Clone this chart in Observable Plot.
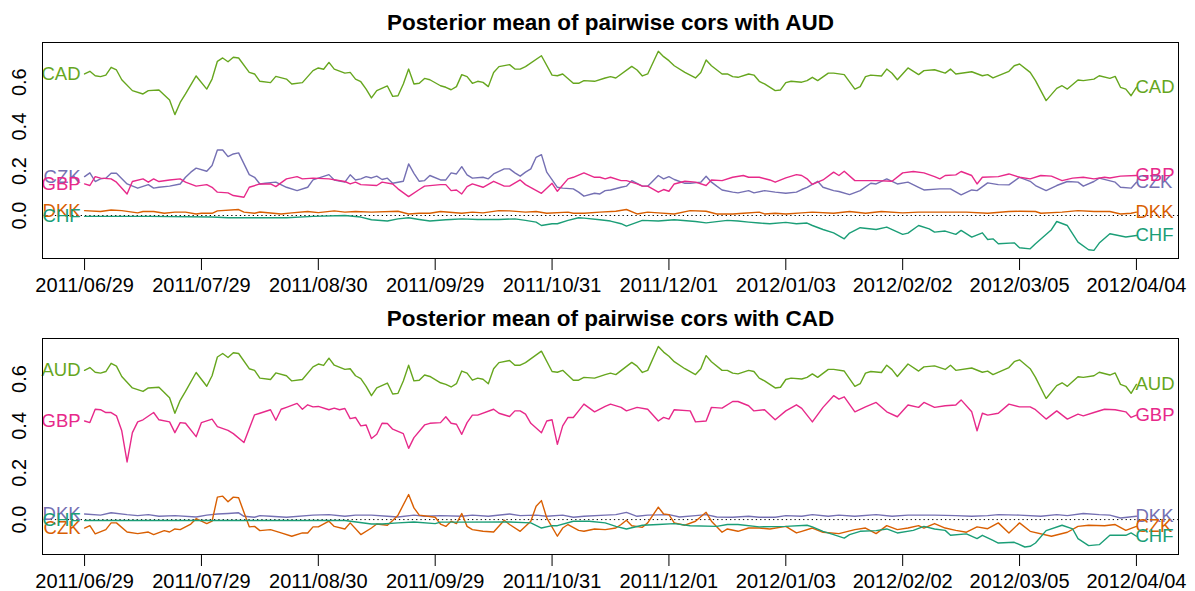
<!DOCTYPE html>
<html><head><meta charset="utf-8">
<script src="https://cdn.jsdelivr.net/npm/d3@7"></script>
<script src="https://cdn.jsdelivr.net/npm/@observablehq/plot@0.6"></script>
<style>
body{margin:0;background:#fff;}
#wrap{width:1195px;}
#wrap svg{display:block;}
</style></head><body><div id="wrap"></div>
<script>
// x = trading-day index (0 = 2011/06/29 ... 198 = 2012/04/04)
const tickIdx = [0,22,44,66,88,110,132,154,176,198];
const tickLabels = ["2011/06/29","2011/07/29","2011/08/30","2011/09/29","2011/10/31","2011/12/01","2012/01/03","2012/02/02","2012/03/05","2012/04/04"];
const yTicks = [0,0.2,0.4,0.6];
const titles = ["Posterior mean of pairwise cors with AUD","Posterior mean of pairwise cors with CAD"];

// AUD–CAD correlation (shared by both panels)
const audCad = [[0,.637],[1,.649],[2,.629],[3,.625],[4,.632],[5,.667],[6,.655],[7,.611],[9,.562],[11,.547],[12,.562],[14,.565],[16,.520],[17,.454],[18,.509],[19,.547],[21,.628],[23,.569],[24,.614],[25,.694],[26,.709],[27,.692],[28,.712],[29,.709],[31,.644],[32,.637],[33,.604],[35,.598],[36,.626],[38,.614],[39,.592],[41,.598],[43,.652],[44,.664],[45,.658],[46,.689],[47,.659],[49,.641],[50,.644],[51,.614],[52,.602],[53,.569],[54,.529],[55,.562],[57,.583],[58,.536],[59,.539],[60,.592],[61,.659],[62,.592],[63,.595],[64,.617],[65,.611],[67,.584],[68,.577],[69,.566],[70,.580],[71,.634],[72,.625],[73,.595],[74,.604],[75,.599],[76,.580],[77,.644],[78,.670],[80,.679],[81,.659],[82,.659],[83,.670],[86,.719],[88,.632],[89,.629],[90,.637],[92,.595],[93,.595],[94,.607],[96,.604],[98,.619],[99,.625],[100,.619],[103,.671],[104,.655],[105,.628],[106,.637],[108,.739],[109,.715],[110,.697],[111,.674],[113,.644],[115,.619],[116,.644],[117,.700],[118,.674],[120,.637],[121,.637],[122,.625],[123,.622],[125,.637],[126,.632],[127,.604],[128,.592],[130,.562],[131,.565],[132,.598],[133,.604],[135,.600],[136,.607],[137,.622],[138,.607],[140,.641],[141,.641],[143,.634],[145,.569],[146,.580],[147,.625],[148,.632],[150,.628],[151,.659],[152,.640],[153,.611],[155,.664],[157,.634],[158,.652],[160,.656],[162,.641],[163,.659],[164,.637],[167,.647],[169,.629],[170,.634],[171,.619],[174,.649],[175,.674],[176,.682],[178,.644],[179,.607],[181,.517],[183,.572],[184,.584],[185,.569],[187,.610],[188,.607],[190,.614],[191,.629],[193,.617],[194,.626],[195,.577],[196,.569],[197,.539],[198,.577]];

// Panel 1: correlations with AUD
const audCzk = [[0,.175],[1,.192],[2,.153],[3,.165],[4,.168],[5,.190],[6,.190],[8,.142],[10,.123],[12,.139],[13,.123],[14,.127],[16,.132],[18,.142],[19,.172],[20,.195],[21,.213],[23,.199],[24,.225],[25,.295],[26,.295],[27,.265],[28,.277],[29,.282],[31,.184],[32,.172],[33,.142],[34,.145],[36,.150],[38,.127],[40,.112],[42,.127],[43,.160],[46,.184],[47,.160],[49,.150],[50,.183],[51,.160],[52,.165],[53,.175],[54,.169],[55,.177],[56,.162],[57,.168],[58,.145],[60,.154],[61,.232],[62,.190],[63,.154],[64,.157],[65,.180],[67,.160],[68,.160],[69,.192],[70,.187],[71,.220],[72,.183],[73,.168],[75,.172],[76,.165],[77,.187],[79,.210],[80,.210],[81,.192],[82,.177],[83,.195],[84,.210],[85,.262],[86,.274],[87,.195],[89,.127],[90,.123],[92,.120],[93,.105],[94,.087],[96,.100],[97,.097],[98,.112],[99,.115],[101,.127],[102,.132],[103,.157],[105,.132],[106,.132],[108,.180],[109,.165],[110,.175],[111,.162],[113,.145],[114,.145],[116,.150],[117,.177],[118,.150],[119,.132],[120,.115],[122,.105],[123,.102],[125,.112],[126,.102],[128,.112],[130,.105],[132,.100],[134,.105],[135,.117],[136,.127],[138,.154],[139,.127],[141,.112],[142,.108],[144,.094],[146,.112],[148,.145],[149,.142],[151,.165],[153,.142],[155,.150],[157,.127],[158,.115],[161,.120],[163,.120],[165,.093],[167,.115],[168,.112],[170,.147],[172,.139],[174,.138],[176,.172],[178,.154],[179,.135],[181,.112],[183,.135],[185,.153],[187,.150],[188,.132],[190,.153],[191,.168],[194,.150],[195,.127],[197,.123],[198,.150]];
const audGbp = [[0,.142],[1,.135],[2,.175],[3,.168],[5,.165],[6,.150],[8,.097],[9,.153],[11,.165],[12,.150],[13,.165],[14,.153],[16,.160],[18,.165],[19,.150],[21,.132],[23,.139],[24,.127],[25,.105],[27,.102],[28,.090],[30,.082],[31,.127],[33,.142],[35,.142],[36,.130],[38,.165],[40,.175],[41,.165],[43,.168],[46,.165],[49,.153],[50,.142],[51,.150],[52,.139],[55,.135],[56,.150],[58,.142],[59,.120],[61,.085],[63,.117],[64,.132],[67,.139],[68,.139],[69,.112],[70,.115],[71,.097],[72,.130],[73,.142],[75,.127],[77,.154],[79,.132],[80,.132],[82,.160],[83,.139],[86,.100],[88,.145],[89,.109],[91,.165],[92,.172],[94,.192],[96,.172],[97,.172],[98,.165],[99,.172],[101,.157],[102,.157],[104,.142],[105,.132],[106,.132],[108,.105],[109,.117],[110,.109],[111,.142],[113,.154],[115,.150],[117,.135],[118,.160],[120,.157],[122,.172],[124,.180],[125,.172],[127,.172],[129,.160],[130,.150],[132,.169],[134,.184],[135,.180],[136,.165],[137,.140],[139,.160],[141,.195],[142,.180],[143,.199],[145,.157],[147,.157],[149,.157],[152,.154],[154,.192],[156,.198],[158,.192],[160,.175],[161,.165],[162,.180],[164,.183],[165,.198],[167,.180],[168,.142],[169,.172],[172,.175],[174,.187],[176,.172],[178,.165],[180,.180],[182,.177],[184,.157],[186,.168],[188,.172],[190,.165],[192,.172],[193,.169],[195,.177],[198,.180]];
const audDkk = [[0,.022],[3,.018],[5,.025],[7,.022],[10,.012],[11,.018],[13,.018],[15,.010],[17,.015],[19,.015],[21,.007],[22,.010],[24,.010],[25,.021],[29,.027],[30,.015],[32,.010],[33,.016],[37,.007],[39,.012],[42,.018],[44,.013],[47,.021],[49,.015],[51,.018],[54,.015],[59,.019],[61,.007],[63,.010],[65,.010],[67,.018],[71,.010],[73,.015],[75,.012],[78,.022],[80,.021],[83,.015],[85,.018],[87,.010],[91,.015],[92,.010],[94,.010],[97,.015],[100,.019],[102,.027],[104,.007],[106,.015],[108,.012],[111,.007],[114,.022],[117,.019],[119,.007],[122,.007],[124,.010],[127,.015],[128,.007],[130,.010],[132,.007],[135,.012],[137,.015],[141,.010],[144,.018],[147,.010],[150,.018],[154,.012],[157,.015],[160,.015],[166,.015],[170,.010],[174,.018],[176,.019],[179,.018],[180,.010],[184,.015],[187,.022],[190,.018],[193,.018],[195,.007],[197,.010],[198,.015]];
const audChf = [[0,-.004],[12,-.004],[24,-.007],[27,-.010],[38,-.010],[43,-.004],[49,0],[52,-.007],[54,-.019],[57,-.025],[59,-.015],[61,-.010],[63,-.018],[65,-.025],[68,-.019],[69,-.018],[71,-.015],[74,-.018],[78,-.018],[81,-.015],[83,-.022],[85,-.030],[86,-.045],[88,-.037],[89,-.037],[91,-.022],[93,-.010],[94,-.012],[97,-.019],[99,-.025],[101,-.037],[102,-.048],[105,-.022],[108,-.025],[111,-.019],[115,-.027],[117,-.033],[121,-.022],[123,-.025],[125,-.030],[127,-.034],[129,-.037],[132,-.031],[134,-.037],[136,-.034],[137,-.045],[139,-.063],[141,-.078],[143,-.105],[144,-.079],[146,-.055],[149,-.063],[151,-.052],[154,-.085],[155,-.079],[157,-.045],[159,-.060],[160,-.075],[162,-.070],[164,-.085],[165,-.067],[167,-.097],[169,-.078],[170,-.108],[171,-.105],[172,-.127],[175,-.123],[176,-.145],[178,-.150],[179,-.127],[182,-.064],[183,-.027],[185,-.045],[187,-.120],[189,-.154],[190,-.157],[191,-.124],[193,-.082],[196,-.097],[198,-.090]];

// Panel 2: correlations with CAD
const cadGbp = [[0,.421],[1,.414],[2,.471],[3,.469],[4,.457],[5,.457],[6,.443],[7,.379],[8,.246],[9,.371],[10,.417],[11,.426],[13,.457],[14,.426],[16,.417],[17,.371],[18,.414],[19,.411],[21,.354],[22,.414],[24,.429],[25,.397],[27,.381],[28,.367],[30,.329],[32,.447],[33,.454],[35,.469],[36,.424],[37,.471],[38,.479],[40,.496],[41,.471],[42,.490],[43,.481],[44,.483],[46,.469],[47,.476],[48,.469],[49,.474],[50,.431],[51,.436],[52,.400],[53,.404],[54,.346],[55,.364],[56,.411],[57,.410],[58,.386],[60,.367],[61,.304],[62,.350],[64,.404],[65,.411],[67,.414],[68,.439],[69,.411],[70,.407],[71,.364],[72,.414],[73,.446],[74,.446],[77,.471],[78,.454],[80,.440],[81,.464],[82,.464],[83,.450],[84,.411],[86,.371],[87,.421],[88,.426],[89,.321],[90,.400],[91,.436],[92,.436],[93,.464],[94,.493],[96,.460],[98,.483],[99,.493],[101,.479],[102,.464],[104,.479],[106,.471],[108,.421],[109,.436],[110,.429],[111,.469],[114,.464],[115,.417],[117,.421],[118,.479],[120,.476],[122,.504],[123,.504],[125,.486],[126,.464],[128,.469],[130,.426],[132,.464],[134,.490],[135,.475],[137,.417],[139,.479],[141,.529],[142,.514],[143,.524],[145,.460],[147,.481],[149,.500],[151,.460],[153,.439],[155,.489],[157,.479],[158,.500],[160,.479],[162,.486],[164,.489],[165,.511],[167,.460],[168,.379],[169,.454],[170,.446],[172,.454],[174,.493],[176,.481],[178,.481],[179,.469],[181,.429],[183,.464],[185,.429],[187,.450],[188,.443],[190,.457],[192,.471],[194,.469],[196,.460],[197,.436],[198,.446]];
const cadDkk = [[0,.024],[3,.019],[5,.029],[8,.021],[10,.017],[12,.021],[14,.014],[17,.017],[21,.011],[23,.019],[25,.024],[27,.026],[29,.029],[30,.014],[32,.010],[33,.017],[35,.014],[38,.010],[43,.019],[46,.021],[49,.014],[51,.019],[54,.019],[57,.014],[59,.011],[62,.019],[64,.014],[67,.017],[71,.014],[73,.019],[76,.014],[80,.024],[82,.017],[85,.019],[87,.014],[90,.019],[92,.010],[94,.014],[98,.019],[100,.021],[102,.031],[104,.014],[106,.019],[110,.021],[112,.011],[115,.017],[117,.021],[119,.011],[122,.010],[125,.014],[127,.010],[130,.010],[132,.017],[135,.014],[137,.021],[140,.014],[142,.019],[145,.014],[149,.021],[152,.014],[155,.019],[160,.019],[164,.017],[167,.014],[170,.017],[172,.021],[176,.019],[180,.014],[183,.021],[185,.017],[188,.026],[191,.021],[193,.019],[195,.007],[198,.014]];
const cadCzk = [[0,-.036],[1,-.026],[2,-.061],[4,-.043],[5,-.014],[6,-.014],[8,-.053],[10,-.060],[12,-.053],[13,-.064],[15,-.047],[16,-.053],[17,-.040],[18,-.043],[20,-.019],[21,.004],[23,-.017],[24,-.007],[25,.096],[26,.100],[27,.076],[28,.096],[29,.093],[31,-.031],[32,-.029],[33,-.047],[35,-.043],[37,-.057],[39,-.071],[41,-.057],[42,-.057],[43,-.031],[44,-.031],[46,-.007],[47,-.029],[49,-.040],[50,-.014],[52,-.064],[54,-.036],[55,-.019],[57,-.024],[58,-.004],[59,.019],[61,.107],[62,.050],[63,.019],[66,.010],[67,-.019],[68,-.029],[69,-.007],[70,-.017],[71,.026],[72,-.029],[73,-.043],[75,-.050],[77,-.053],[79,-.003],[80,-.021],[82,-.050],[84,-.007],[85,.057],[86,.081],[87,.007],[89,-.071],[90,-.036],[91,-.021],[93,-.046],[94,-.050],[96,-.040],[98,-.043],[100,-.036],[101,-.021],[102,-.003],[103,-.026],[105,-.033],[106,-.014],[108,.053],[109,.024],[110,.021],[111,-.014],[113,-.024],[115,-.007],[117,.031],[118,-.007],[120,-.054],[121,-.040],[123,-.050],[125,-.036],[127,-.036],[129,-.040],[132,-.029],[134,-.057],[135,-.050],[137,-.036],[139,-.054],[142,-.060],[145,-.043],[147,-.036],[149,-.060],[151,-.026],[153,-.043],[155,-.036],[157,-.026],[158,-.036],[160,-.017],[162,-.036],[164,-.046],[166,-.054],[168,-.031],[170,-.039],[172,-.014],[174,-.057],[176,-.014],[178,-.050],[182,-.071],[185,-.054],[187,-.029],[189,-.024],[192,-.026],[194,-.021],[196,-.046],[198,-.029]];
const cadChf = [[0,-.004],[24,-.004],[49,-.004],[54,-.019],[56,-.019],[59,-.014],[62,-.010],[66,-.017],[67,-.011],[71,-.011],[80,-.010],[84,-.014],[86,-.036],[88,-.026],[89,-.026],[92,-.007],[95,-.007],[98,-.014],[100,-.029],[102,-.040],[105,-.024],[108,-.021],[111,-.017],[114,-.026],[119,-.029],[121,-.021],[123,-.021],[127,-.031],[132,-.029],[136,-.024],[137,-.031],[139,-.050],[141,-.064],[143,-.079],[144,-.064],[146,-.050],[149,-.047],[151,-.040],[153,-.057],[156,-.046],[158,-.029],[160,-.040],[162,-.046],[163,-.067],[166,-.061],[168,-.081],[169,-.067],[171,-.089],[172,-.100],[175,-.097],[177,-.117],[178,-.114],[179,-.100],[181,-.047],[184,-.024],[186,-.040],[187,-.081],[189,-.111],[191,-.107],[193,-.067],[196,-.067],[197,-.057],[198,-.071]];

const panel1Names = ["CAD","CZK","GBP","DKK","CHF"];
const panel2Names = ["AUD","GBP","DKK","CZK","CHF"];
const panel1Colors = ["#66A61E","#7570B3","#E7298A","#D95F02","#1B9E77"];
const panel2Colors = ["#66A61E","#E7298A","#7570B3","#D95F02","#1B9E77"];
const panel1Data = [audCad, audCzk, audGbp, audDkk, audChf];
const panel2Data = [audCad, cadGbp, cadDkk, cadCzk, cadChf];

const FONT = "'Liberation Sans', Arial, Helvetica, sans-serif";

function panel(title, names, colors, datasets, height, yDomain) {
  const marks = [
    Plot.ruleY([0], {stroke: "black", strokeWidth: 1, strokeDasharray: "1.3,3"})
  ];
  datasets.forEach((vals, k) => {
    marks.push(Plot.line(vals, {x: d => d[0], y: d => d[1], stroke: colors[k], strokeWidth: 1.4}));
  });
  datasets.forEach((vals, k) => {
    const first = vals[0], last = vals[vals.length - 1];
    marks.push(Plot.text([first], {x: d => d[0], y: d => d[1], text: () => names[k], fill: colors[k], textAnchor: "end", dx: -4, fontSize: 18.5}));
    marks.push(Plot.text([last], {x: d => d[0], y: d => d[1], text: () => names[k], fill: colors[k], textAnchor: "start", dx: -1, fontSize: 18.5}));
  });
  marks.push(Plot.frame({stroke: "black", strokeWidth: 1}));
  marks.push(Plot.axisX(tickIdx, {tickFormat: d => tickLabels[tickIdx.indexOf(d)], tickSize: 12, tickPadding: 7, fontSize: 20, stroke: "black", label: null}));
  marks.push(Plot.text(yTicks, {y: d => d, frameAnchor: "left", text: d => d.toFixed(1), rotate: -90, dx: -23, fontSize: 20, textAnchor: "middle", lineAnchor: "middle"}));
  marks.push(Plot.text([title], {frameAnchor: "top", text: d => d, lineAnchor: "bottom", dy: -13, fontWeight: "bold", fontSize: 22.5}));
  return Plot.plot({
    width: 1195, height,
    marginTop: 42, marginBottom: height - 258, marginLeft: 42, marginRight: 17,
    x: {domain: [-7.92, 205.92], axis: null},
    y: {domain: yDomain, axis: null},
    style: {fontFamily: FONT, fontSize: "20px", background: "white", color: "black", overflow: "visible"},
    marks
  });
}

const wrap = document.getElementById("wrap");
wrap.appendChild(panel(titles[0], panel1Names, panel1Colors, panel1Data, 296, [-0.1935, 0.7786]));
wrap.appendChild(panel(titles[1], panel2Names, panel2Colors, panel2Data, 295, [-0.149, 0.773]));
</script></body></html>
